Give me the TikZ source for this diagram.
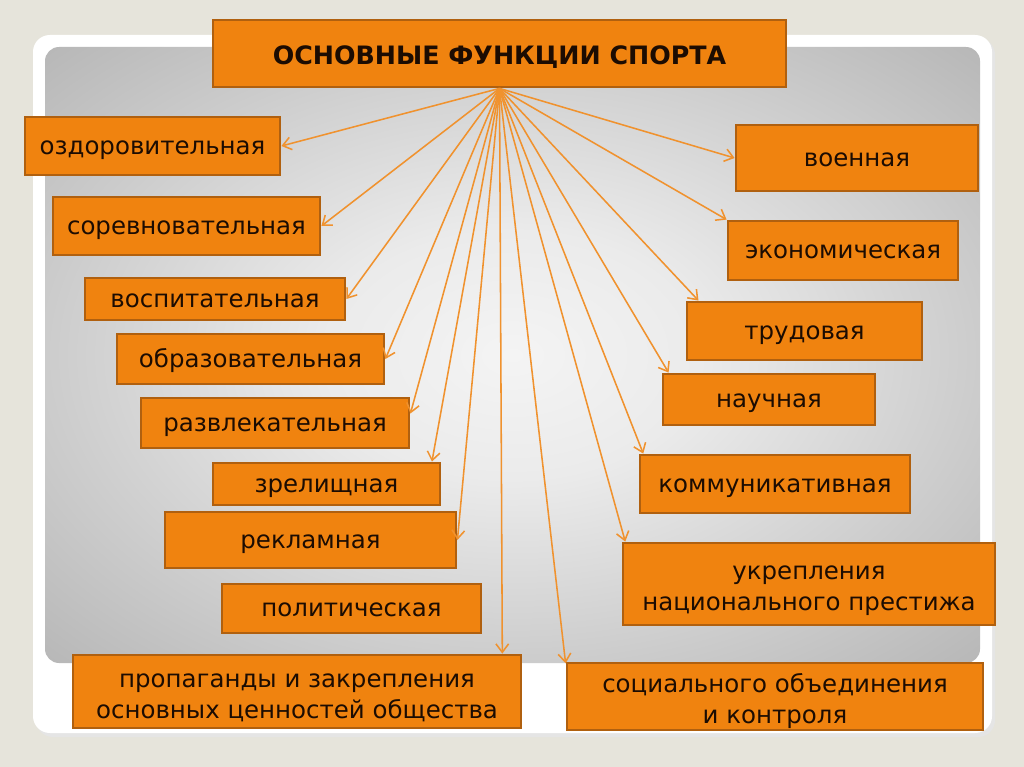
\documentclass[tikz,border=0pt]{standalone}
\usepackage{fontspec}
\setmainfont{DejaVu Sans}
\usetikzlibrary{arrows.meta}
\definecolor{boxfill}{HTML}{F0830F}
\definecolor{boxline}{HTML}{B0600F}
\definecolor{arrowcol}{HTML}{F0922E}
\definecolor{slidebg}{HTML}{E6E4DB}
\definecolor{txt}{HTML}{1C0C02}
\definecolor{pcenter}{HTML}{F4F4F4}
\definecolor{plight}{HTML}{EBEBEB}
\definecolor{pmid}{HTML}{CCCCCC}
\definecolor{pedge}{HTML}{B2B2B2}
\definecolor{pcorner}{HTML}{9E9E9E}
\pgfdeclareradialshading{panelshade}{\pgfpoint{0bp}{0bp}}{color(0bp)=(pcenter); color(10bp)=(plight); color(25bp)=(pmid); color(38bp)=(pedge); color(50bp)=(pcorner)}
\begin{document}
\begin{tikzpicture}[x=0.025cm, y=-0.025cm,
    box/.style 2 args={draw=boxline, line width=2pt, fill=boxfill, text=txt,
      inner sep=0pt, align=center, font=\fontsize{17.4}{20}\selectfont,
      text height=16pt, text depth=4pt,
      minimum width=#1*0.025cm, minimum height=#2*0.025cm},
    twoline/.style={font=\fontsize{17.4}{22}\selectfont, text height=42pt, text depth=4pt},
    link/.style={arrowcol, line width=1.1pt, -{Straight Barb[length=6pt,width=9pt]}}]
      \fill[slidebg] (0,0) rectangle (1024,767);
      \fill[black!10, rounded corners=12pt] (36,38) rectangle (995,737);
      \fill[white, rounded corners=12pt] (33,35) rectangle (992,733);
      \shade[shading=panelshade, rounded corners=10pt] (45,47) rectangle (980,663);

      \node[box={573}{67}, font=\fontsize{18}{22}\selectfont\bfseries, text height=20pt] (title) at (499.5,53.5) {ОСНОВНЫЕ ФУНКЦИИ СПОРТА};

      \node[box={255}{58}] (ozd)   at (152.5,146) {оздоровительная};
      \node[box={267}{58}] (sor)   at (186.5,226) {соревновательная};
      \node[box={260}{42}] (vosp)  at (215,299)   {воспитательная};
      \node[box={267}{50}] (obr)   at (250.5,359) {образовательная};
      \node[box={268}{50}] (razv)  at (275,423)   {развлекательная};
      \node[box={227}{42}] (zrel)  at (326.5,484) {зрелищная};
      \node[box={291}{56}] (rekl)  at (310.5,540) {рекламная};
      \node[box={259}{49}] (polit) at (351.5,608.5) {политическая};
      \node[box={448}{73}, twoline] (prop) at (297,691.5) {пропаганды и закрепления\\основных ценностей общества};

      \node[box={242}{66}] (voen)  at (857,158)   {военная};
      \node[box={230}{59}] (ekon)  at (843,250.5) {экономическая};
      \node[box={235}{58}] (trud)  at (804.5,331) {трудовая};
      \node[box={212}{51}] (nauch) at (769,399.5) {научная};
      \node[box={270}{58}] (komm)  at (775,484)   {коммуникативная};
      \node[box={372}{82}, twoline] (ukr) at (809,584) {укрепления\\национального престижа};
      \node[box={416}{67}, twoline] (soc) at (775,696.5) {социального объединения\\и контроля};

      \draw[link] (title.south) -- (ozd.east);
      \draw[link] (title.south) -- (sor.east);
      \draw[link] (title.south) -- (vosp.east);
      \draw[link] (title.south) -- (obr.east);
      \draw[link] (title.south) -- (razv.4);
      \draw[link] (title.south) -- (zrel.12);
      \draw[link] (title.south) -- (rekl.east);
      \draw[link] (title.south) -- ([xshift=2pt]title.south |- prop.north);

      \draw[link] (title.south) -- (voen.west);
      \draw[link] (title.south) -- (ekon.north west);
      \draw[link] (title.south) -- (trud.164);
      \draw[link] (title.south) -- (nauch.165);
      \draw[link] (title.south) -- (komm.167);
      \draw[link] (title.south) -- (ukr.167);
      \draw[link] (title.south) -- (soc.171);
    \end{tikzpicture}
\end{document}
